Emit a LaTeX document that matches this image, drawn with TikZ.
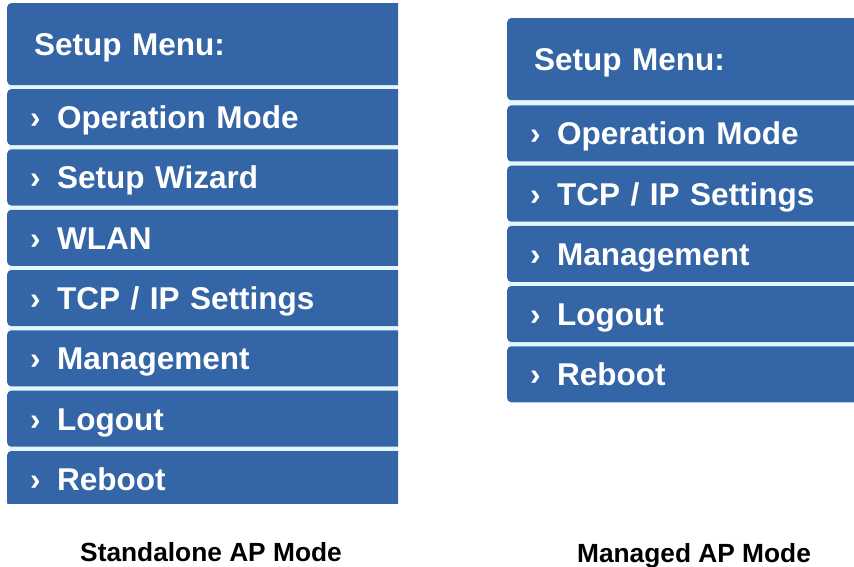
\documentclass[tikz,border=0pt]{standalone}
\usepackage{fontspec}
\setmainfont{Liberation Sans}
\usepackage{tikz}
\definecolor{menublue}{RGB}{52,101,166}
\definecolor{menugap}{RGB}{228,246,252}
\newcommand{\chev}{\makebox[27pt][l]{›}}
\tikzset{
    menuhead/.style={shape=rectangle, fill=menublue, anchor=north west, rounded corners=4pt,
        minimum height=82pt, inner xsep=27pt, text=white, align=left,
        font=\fontsize{31.5}{31.5}\selectfont\bfseries, text height=22pt, text depth=0pt},
    menuitem/.style={shape=rectangle, fill=menublue, anchor=north west, rounded corners=4pt,
        minimum height=56pt, inner xsep=23pt, text=white, align=left,
        font=\fontsize{31.5}{31.5}\selectfont\bfseries, text height=22.6pt, text depth=0pt},
    modecaption/.style={font=\fontsize{26.3}{26.3}\selectfont\bfseries, text=black,
        text height=18.8pt, text depth=0pt, inner sep=0pt}
}

\begin{document}
\begin{tikzpicture}[x=1pt, y=-1pt]
    \useasboundingbox (0,0) rectangle (854,567);

    % standalone AP mode
    \begin{scope}
        \clip (0,0) rectangle (398,503);
        \fill[menugap] (9,3) rectangle (398,503);
        \node[menuhead, text width=346pt] (L0) at (7,3) {Setup Menu:};
        \node[menuitem, text width=354pt] (L1) at (7,89) {\chev Operation Mode};
        \node[menuitem, text width=354pt] (L2) at (7,149.3) {\chev Setup Wizard};
        \node[menuitem, text width=354pt] (L3) at (7,209.6) {\chev WLAN};
        \node[menuitem, text width=354pt] (L4) at (7,269.9) {\chev TCP / IP Settings};
        \node[menuitem, text width=354pt] (L5) at (7,330.2) {\chev Management};
        \node[menuitem, text width=354pt] (L6) at (7,390.5) {\chev Logout};
        \node[menuitem, text width=354pt] (L7) at (7,450.8) {\chev Reboot};
    \end{scope}

    % managed AP mode
    \begin{scope}
        \clip (500,0) rectangle (854,567);
        \fill[menugap] (509,18) rectangle (854,400);
        \node[menuhead, text width=306pt] (R0) at (507,18) {Setup Menu:};
        \node[menuitem, text width=314pt] (R1) at (507,105.3) {\chev Operation Mode};
        \node[menuitem, text width=314pt] (R2) at (507,165.5) {\chev TCP / IP Settings};
        \node[menuitem, text width=314pt] (R3) at (507,225.7) {\chev Management};
        \node[menuitem, text width=314pt] (R4) at (507,285.9) {\chev Logout};
        \node[menuitem, text width=314pt] (R5) at (507,346.1) {\chev Reboot};
    \end{scope}

    \node[modecaption] (capL) at (211,552.5) {Standalone AP Mode};
    \node[modecaption] (capR) at (694,553.5) {Managed AP Mode};
\end{tikzpicture}
\end{document}
